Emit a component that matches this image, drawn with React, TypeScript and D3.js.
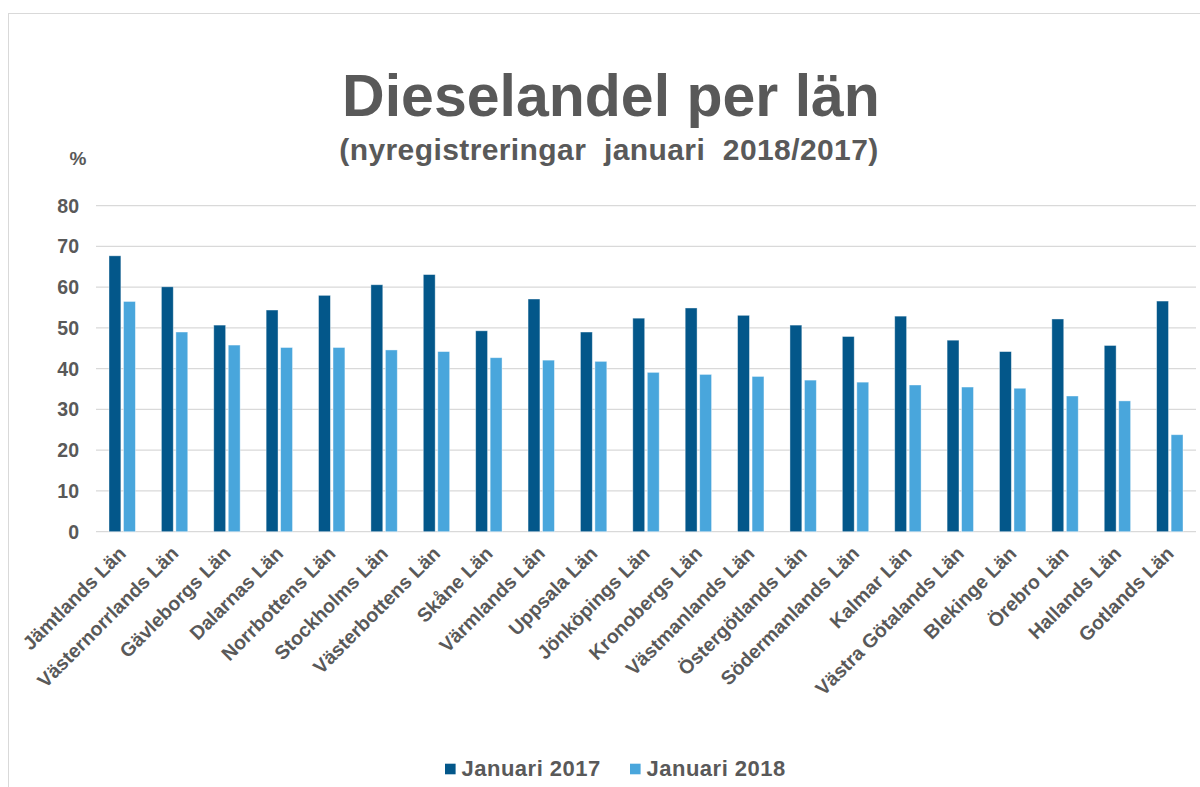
import React, { useEffect, useRef } from 'react';
import * as d3 from 'd3';

// Län names (x categories)
const lan = [
  'Jämtlands Län', 'Västernorrlands Län', 'Gävleborgs Län', 'Dalarnas Län', 'Norrbottens Län',
  'Stockholms Län', 'Västerbottens Län', 'Skåne Län', 'Värmlands Län', 'Uppsala Län',
  'Jönköpings Län', 'Kronobergs Län', 'Västmanlands Län', 'Östergötlands Län', 'Södermanlands Län',
  'Kalmar Län', 'Västra Götalands Län', 'Blekinge Län', 'Örebro Län', 'Hallands Län', 'Gotlands Län',
];

// diesel share, percent
const jan2017 = [67.7, 60.1, 50.7, 54.4, 58.0, 60.6, 63.1, 49.3, 57.1, 49.0, 52.4, 54.9, 53.1, 50.7, 47.9, 52.9, 47.0, 44.2, 52.2, 45.7, 56.6];
const jan2018 = [56.5, 49.0, 45.8, 45.2, 45.2, 44.6, 44.2, 42.7, 42.1, 41.8, 39.1, 38.6, 38.1, 37.2, 36.7, 36.0, 35.5, 35.2, 33.3, 32.1, 23.8];

const seriesNames = ['Januari 2017', 'Januari 2018'];
const yTicks = [0, 10, 20, 30, 40, 50, 60, 70, 80];

const App = () => {
  const ref = useRef<SVGSVGElement>(null);

  useEffect(() => {
    const W = 1200;
    const H = 787;
    const left = 96, right = 1196, top = 205.7, bottom = 531.7;
    const colors = ['#03578a', '#49a6dc'];
    const textColor = '#595959';
    const font = '"Liberation Sans", Arial, sans-serif';

    const svg = d3.select(ref.current);
    svg.selectAll('*').remove();

    // outer chart border
    svg.append('rect')
      .attr('x', 8.5).attr('y', 13.5)
      .attr('width', W).attr('height', H)
      .attr('fill', 'white')
      .attr('stroke', '#d9d9d9');

    const x = d3.scaleBand().domain(lan).range([left, right]).padding(0);
    const x1 = d3.scaleBand().domain(seriesNames)
      .range([13, x.bandwidth() - 13]).paddingInner(0.18);
    const y = d3.scaleLinear().domain([0, 80]).range([bottom, top]);

    // gridlines
    svg.append('g').selectAll('line')
      .data(yTicks)
      .enter()
      .append('line')
      .attr('x1', left).attr('x2', right)
      .attr('y1', (d) => y(d)).attr('y2', (d) => y(d))
      .attr('stroke', '#d9d9d9')
      .attr('stroke-width', 1.3);

    // y labels
    svg.append('g').selectAll('text')
      .data(yTicks)
      .enter()
      .append('text')
      .attr('x', 79)
      .attr('y', (d) => y(d))
      .attr('dy', '0.36em')
      .attr('text-anchor', 'end')
      .attr('font-family', font)
      .attr('font-weight', 'bold')
      .attr('font-size', 19.5)
      .attr('fill', textColor)
      .text((d) => d);

    // bars
    const rows = lan.map((name, i) => ({ name, vals: [jan2017[i], jan2018[i]] }));
    const groups = svg.append('g').selectAll('g')
      .data(rows)
      .enter()
      .append('g')
      .attr('transform', (d) => `translate(${x(d.name)},0)`);

    groups.selectAll('rect')
      .data((d) => d.vals.map((v, k) => ({ v, k })))
      .enter()
      .append('rect')
      .attr('x', (d) => x1(seriesNames[d.k]))
      .attr('y', (d) => y(d.v))
      .attr('width', x1.bandwidth())
      .attr('height', (d) => bottom - y(d.v))
      .attr('fill', (d) => colors[d.k])
      .attr('stroke', 'rgba(255,255,255,0.5)')
      .attr('stroke-width', 0.8);

    // x labels, rotated
    svg.append('g').selectAll('text')
      .data(lan)
      .enter()
      .append('text')
      .attr('transform', (d) => `translate(${x(d) + x.bandwidth() / 2 + 5},${bottom + 23}) rotate(-45)`)
      .attr('text-anchor', 'end')
      .attr('font-family', font)
      .attr('font-weight', 'bold')
      .attr('font-size', 19.5)
      .attr('fill', textColor)
      .text((d) => d);

    // titles
    svg.append('text')
      .attr('x', 611).attr('y', 116)
      .attr('text-anchor', 'middle')
      .attr('font-family', font)
      .attr('font-weight', 'bold')
      .attr('font-size', 59)
      .attr('fill', textColor)
      .text('Dieselandel per län');

    svg.append('text')
      .attr('x', 609).attr('y', 160)
      .attr('text-anchor', 'middle')
      .attr('font-family', font)
      .attr('font-weight', 'bold')
      .attr('font-size', 30)
      .attr('letter-spacing', 0.4)
      .attr('word-spacing', 9)
      .attr('fill', textColor)
      .text('(nyregistreringar januari 2018/2017)');

    svg.append('text')
      .attr('x', 78).attr('y', 165)
      .attr('text-anchor', 'middle')
      .attr('font-family', font)
      .attr('font-weight', 'bold')
      .attr('font-size', 19)
      .attr('fill', textColor)
      .text('%');

    // legend
    const legendX = [445, 630];
    const legend = svg.append('g').selectAll('g')
      .data(seriesNames)
      .enter()
      .append('g')
      .attr('transform', (d, i) => `translate(${legendX[i]},769)`);
    legend.append('rect')
      .attr('x', 0).attr('y', -5.3)
      .attr('width', 10.6).attr('height', 10.6)
      .attr('fill', (d, i) => colors[i]);
    legend.append('text')
      .attr('x', 16.5).attr('y', 7)
      .attr('font-family', font)
      .attr('font-weight', 'bold')
      .attr('font-size', 22)
      .attr('letter-spacing', 0.5)
      .attr('fill', textColor)
      .text((d) => d);
  }, []);

  return (
    <svg
      ref={ref}
      width={1200}
      height={787}
      style={{ position: 'absolute', left: 0, top: 0, display: 'block', background: 'white' }}
    />
  );
};

export default App;
